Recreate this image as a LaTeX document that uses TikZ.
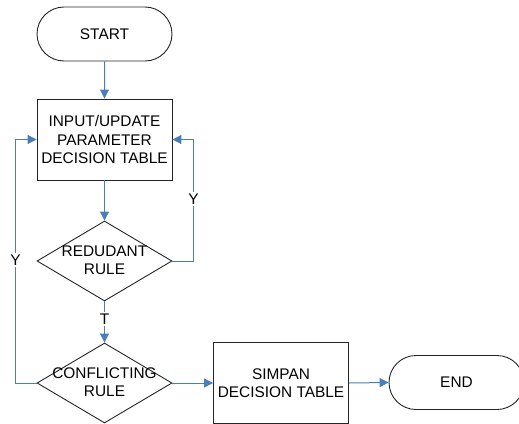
\documentclass[tikz,border=0pt]{standalone}
\usepackage{fontspec}
\setmainfont{Liberation Sans}
\usetikzlibrary{shapes.geometric,shapes.misc,arrows.meta}
\definecolor{flowblue}{HTML}{4A7EBB}
\definecolor{edgegray}{HTML}{262626}
\begin{document}
\begin{tikzpicture}[x=1pt,y=-1pt,
  every node/.style={font=\fontsize{15.4pt}{18.5pt}\selectfont, align=center},
  terminal/.style={rounded rectangle, draw=edgegray, line width=0.9pt,
    minimum width=135pt, minimum height=54pt, inner sep=0pt},
  process/.style={rectangle, draw=edgegray, line width=0.9pt,
    minimum width=135pt, minimum height=81pt, inner sep=0pt},
  decision/.style={diamond, draw=edgegray, line width=0.9pt,
    minimum width=135pt, minimum height=80pt, inner sep=0pt},
  flow/.style={draw=flowblue, line width=1pt,
    -{Triangle[length=9pt,width=9pt]}},
  flowlabel/.style={fill=white, inner sep=1.5pt}]
\useasboundingbox (0,0) rectangle (519,423);

% shapes
\node[terminal] (start) at (104.5,34) {START};
\node[process] (input) at (104.5,139.5) {INPUT/UPDATE\\PARAMETER\\DECISION TABLE};
\node[decision] (redund) at (104.5,261) {};
\node (redundtxt) at (104.5,260.5) {REDUDANT\\RULE};
\node[decision] (conflict) at (104.5,383) {};
\node (conflicttxt) at (104.5,382) {CONFLICTING\\RULE};
\node[process] (simpan) at (281,383) {SIMPAN\\DECISION TABLE};
\node[terminal] (finish) at (456.5,382.5) {END};

% connectors
\draw[flow] (start) -- (input);
\draw[flow] (input) -- (redund);
\draw[flow] (redund) -- node[flowlabel, pos=0.42] (tlabel) {T} (conflict);
\draw[flow] (redund.east) -- ++(21,0) coordinate (rturn)
  |- node[flowlabel, pos=0.255] (ylabelr) {Y} (input.east);
\draw[flow] (conflict.west) -- ++(-21,0) coordinate (lturn)
  |- node[flowlabel, pos=0.253] (ylabell) {Y} (input.west);
\draw[flow] (conflict.east) -- (simpan.west);
\draw[flow] (simpan.east) -- (finish.west);
\end{tikzpicture}
\end{document}
